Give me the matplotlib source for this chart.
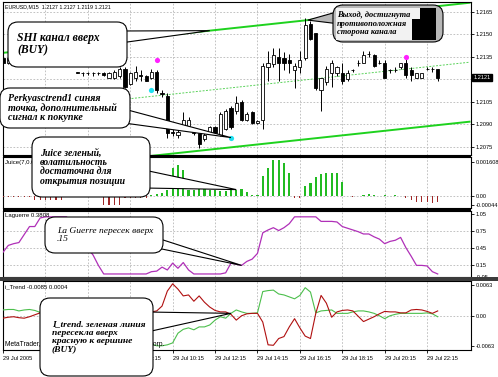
import numpy as np
import matplotlib
matplotlib.use("Agg")
import matplotlib.pyplot as plt
from matplotlib.patches import FancyBboxPatch, Polygon, Rectangle
from matplotlib import transforms

W, H = 498, 377

# EURUSD M15, 29 Jul 2005, bar index 0..82 (02:15 .. 22:45)
opens = [1.2134, 1.2131, 1.2134, 1.2137, 1.2135, 1.2133, 1.2135, 1.2138, 1.2136, 1.2134,
         1.2135, 1.2133, 1.2131, 1.2132, 1.2125, 1.2124, 1.2124, 1.2124, 1.2124, 1.2124,
         1.2121, 1.2121, 1.2122, 1.2127, 1.2117, 1.2121, 1.2123, 1.2122, 1.2121, 1.2125,
         1.2111, 1.2109, 1.2085, 1.2083, 1.2089, 1.2089, 1.2085, 1.2084, 1.2080, 1.2085,
         1.2088, 1.2083, 1.2087, 1.2101, 1.2099, 1.2105, 1.2093, 1.2098, 1.2091, 1.2093,
         1.2128, 1.2130, 1.2135, 1.2134, 1.2133, 1.2126, 1.2128, 1.2134, 1.2157, 1.2151,
         1.2113, 1.2118, 1.2124, 1.2124, 1.2124, 1.2120, 1.2126, 1.2131, 1.2131, 1.2137,
         1.2136, 1.2131, 1.2131, 1.2126, 1.2126, 1.2128, 1.2131, 1.2126, 1.2121, 1.2121,
         1.2127, 1.2127, 1.2127]
highs = [1.2135, 1.2135, 1.2138, 1.2140, 1.2137, 1.2136, 1.2139, 1.2140, 1.2137, 1.2136,
         1.2136, 1.2134, 1.2133, 1.2133, 1.2125, 1.2125, 1.2125, 1.2125, 1.2125, 1.2125,
         1.2125, 1.2126, 1.2128, 1.2128, 1.2125, 1.2129, 1.2126, 1.2123, 1.2127, 1.2126,
         1.2113, 1.2111, 1.2087, 1.2087, 1.2098, 1.2095, 1.2087, 1.2086, 1.2085, 1.2089,
         1.2089, 1.2098, 1.2100, 1.2102, 1.2109, 1.2106, 1.2098, 1.2099, 1.2093, 1.2131,
         1.2139, 1.2141, 1.2141, 1.2138, 1.2137, 1.2131, 1.2139, 1.2161, 1.2159, 1.2151,
         1.2121, 1.2129, 1.2133, 1.2129, 1.2131, 1.2126, 1.2127, 1.2133, 1.2139, 1.2139,
         1.2137, 1.2133, 1.2133, 1.2127, 1.2128, 1.2131, 1.2134, 1.2128, 1.2124, 1.2124,
         1.2128, 1.2128, 1.2127]
lows = [1.2129, 1.2130, 1.2132, 1.2134, 1.2132, 1.2131, 1.2134, 1.2135, 1.2133, 1.2132,
        1.2132, 1.2130, 1.2130, 1.2129, 1.2124, 1.2122, 1.2123, 1.2122, 1.2123, 1.2122,
        1.2121, 1.2120, 1.2121, 1.2114, 1.2116, 1.2119, 1.2119, 1.2119, 1.2120, 1.2111,
        1.2108, 1.2081, 1.2082, 1.2081, 1.2088, 1.2087, 1.2083, 1.2074, 1.2079, 1.2084,
        1.2083, 1.2082, 1.2086, 1.2087, 1.2097, 1.2092, 1.2092, 1.2090, 1.2090, 1.2087,
        1.2119, 1.2128, 1.2119, 1.2126, 1.2124, 1.2114, 1.2124, 1.2133, 1.2146, 1.2113,
        1.2099, 1.2116, 1.2115, 1.2122, 1.2117, 1.2119, 1.2125, 1.2129, 1.2131, 1.2135,
        1.2128, 1.2130, 1.2121, 1.2124, 1.2125, 1.2127, 1.2121, 1.2119, 1.2121, 1.2121,
        1.2126, 1.2125, 1.2119]
closes = [1.2131, 1.2134, 1.2137, 1.2135, 1.2133, 1.2135, 1.2138, 1.2136, 1.2134, 1.2135,
          1.2133, 1.2131, 1.2132, 1.2130, 1.2124, 1.2124, 1.2124, 1.2124, 1.2124, 1.2123,
          1.2124, 1.2125, 1.2127, 1.2115, 1.2124, 1.2125, 1.2122, 1.2119, 1.2125, 1.2113,
          1.2110, 1.2084, 1.2084, 1.2085, 1.2093, 1.2093, 1.2084, 1.2077, 1.2083, 1.2088,
          1.2084, 1.2097, 1.2099, 1.2088, 1.2104, 1.2093, 1.2097, 1.2091, 1.2092, 1.2129,
          1.2131, 1.2136, 1.2131, 1.2131, 1.2131, 1.2129, 1.2133, 1.2156, 1.2147, 1.2114,
          1.2121, 1.2127, 1.2131, 1.2128, 1.2119, 1.2124, 1.2126, 1.2131, 1.2136, 1.2137,
          1.2129, 1.2131, 1.2121, 1.2126, 1.2126, 1.2131, 1.2123, 1.2123, 1.2124, 1.2124,
          1.2127, 1.2127, 1.2121]

# SHI channel edges at its two ends
chan_bars = [0, 88]
chan_upper = [1.21375, 1.21709]
chan_lower = [1.20582, 1.20916]

# Perkyasctrend1 dots
magenta_bars = [29, 76]
magenta_price = [1.2133, 1.2135]
cyan_bars = [28, 43]
cyan_price = [1.2113, 1.2081]

juice = [-0.00005, -0.00005, -0.00005, -0.00005, -0.00005, -0.00005, -0.0002, -0.0002, -0.0002, -0.0002,
         -0.0002, -0.0002, -0.00005, -0.00005, -0.00005, -0.00005, -0.00005, -0.00005, -0.00005, -0.00042,
         -0.00042, -0.00042, -0.00042, -0.0001, -0.0001, -0.0001, -0.0001, -0.0001, 0.00005, 0.0001,
         0.00015, 0.0003, 0.00131, 0.00145, 0.00122, 0.0003, 0.0003, 0.00035, 0.00035, 0.0003,
         0.0003, 0.00025, 0.00025, 0.0003, 0.0003, 0.00035, 0.0002, 0.00005, 0.00005, 0.00094,
         0.0013, 0.0017, 0.00169, 0.00156, 0.00109, -0.00008, -0.00008, 0.00047, 0.0006, 0.0009,
         0.00103, 0.00106, 0.00106, 0.00106, 0.00064, 0.00002, -0.00003, 0.00002, 0.00005, 0.0001,
         0.00005, 0.00002, 0.00005, 0.00002, 0.00005, 0.00002, -0.0001, -0.00019, -0.00027, -0.00027,
         -0.00027, -0.00031, -0.00027]

laguerre = [0.38, 0.50, 0.53, 0.55, 0.69, 0.83, 0.83, 0.98, 1.0, 1.0,
            1.0, 1.0, 1.0, 0.85, 0.70, 0.55, 0.45, 0.33, 0.15, 0.0,
            0.0, 0.0, 0.0, 0.0, 0.0, 0.0, 0.0, 0.0, 0.04, 0.05,
            0.12, 0.07, 0.19, 0.10, 0.20, 0.07, 0.0, 0.0, 0.0, 0.0,
            0.0, 0.0, 0.02, 0.19, 0.17, 0.15, 0.22, 0.26, 0.36, 0.72,
            0.77, 0.81, 0.76, 0.81, 0.88, 1.0, 1.0, 1.0, 1.0, 1.0,
            0.92, 0.92, 0.92, 0.91, 0.83, 0.80, 0.77, 0.74, 0.70, 0.70,
            0.65, 0.61, 0.53, 0.57, 0.59, 0.64, 0.46, 0.31, 0.15, 0.15,
            0.14, 0.04, 0.0]

itrend_green = [0.0012, 0.0013, 0.0013, 0.0010, 0.0012, 0.0013, 0.0011, 0.0007, 0.0005, 0.0003,
                0.0001, -0.0001, -0.0003, -0.0005, -0.0008, -0.0010, -0.0013, -0.0016, -0.0020, -0.0024,
                -0.0028, -0.0032, -0.0036, -0.0040, -0.0044, -0.0048, -0.0052, -0.0055, -0.0058, -0.0062,
                -0.0062, -0.0060, -0.0056, -0.0036, -0.0028, -0.0025, -0.0029, -0.0023, -0.0023, -0.0019,
                -0.0009, -0.0002, -0.0005, 0.0005, 0.0012, 0.0008, 0.0005, 0.0005, 0.0006, 0.0050,
                0.0052, 0.0053, 0.0045, 0.0043, 0.0039, 0.0035, 0.0042, 0.0058, 0.0049, 0.0006,
                0.0010, 0.0011, 0.0012, 0.0005, 0.0005, 0.0005, 0.0008, 0.0010, 0.0010, 0.0008,
                0.0005, 0.0000, -0.0006, 0.0000, 0.0003, 0.0005, 0.0005, 0.0005, 0.0005, 0.0005,
                0.0006, 0.0004, -0.0002]
itrend_red = [-0.0005, -0.0003, -0.0002, -0.0004, -0.0005, -0.0002, 0.0002, 0.0006, 0.0008, 0.0009,
              0.0010, 0.0010, 0.0011, 0.0011, 0.0012, 0.0012, 0.0012, 0.0011, 0.0011, 0.0010,
              0.0010, 0.0009, 0.0009, 0.0009, 0.0008, 0.0008, 0.0008, 0.0008, 0.0008, 0.0010,
              0.0020, 0.0051, 0.0066, 0.0055, 0.0041, 0.0043, 0.0030, 0.0041, 0.0028, 0.0018,
              0.0011, 0.0008, 0.0008, 0.0003, -0.0009, 0.0000, 0.0004, 0.0005, 0.0005, -0.0013,
              -0.0060, -0.0061, -0.0047, -0.0043, -0.0023, -0.0006, -0.0025, -0.0042, -0.0047, 0.0005,
              0.0042, 0.0026, -0.0003, 0.0008, 0.0011, 0.0012, 0.0010, -0.0001, -0.0012, -0.0007,
              -0.0002, 0.0004, 0.0009, 0.0008, 0.0008, 0.0006, 0.0006, 0.0012, 0.0013, 0.0012,
              0.0009, 0.0005, 0.0010]

time_ticks = [0, 8, 16, 24, 32, 40, 48, 56, 64, 72, 80]
time_labels = ['29 Jul 2005', '29 Jul 04:15', '29 Jul 06:15', '29 Jul 08:15', '29 Jul 10:15',
               '29 Jul 12:15', '29 Jul 14:15', '29 Jul 16:15', '29 Jul 18:15', '29 Jul 20:15',
               '29 Jul 22:15']
price_ticks = [1.2165, 1.2150, 1.2135, 1.2120, 1.2105, 1.2090, 1.2075]
price_labels = ['1.2165', '1.2150', '1.2135', '', '1.2105', '1.2090', '1.2075']
juice_ticks = [0.001608, 0.0, -0.00044]
juice_labels = ['0.001608', '0.00', '-0.00044']
lag_ticks = [1.05, 0.75, 0.45, 0.15, -0.05]
lag_labels = ['1.05', '0.75', '0.45', '0.15', '-0.05']
lag_levels = [0.75, 0.45, 0.15]
trend_ticks = [0.0063, 0.0, -0.0063]
trend_labels = ['0.0063', '0.00', '-0.0063']

SANS = ['Liberation Sans', 'DejaVu Sans']
SERIF = ['Liberation Serif', 'DejaVu Serif']
TICK_FS = 4.1
GRID = dict(color='#b8b8b8', lw=0.6, ls=(0, (2, 2)))

fig = plt.figure(figsize=(W / 100, H / 100), dpi=100)


def panel(top, bottom, left=3, right=471):
    return fig.add_axes([left / W, 1 - bottom / H, (right - left) / W, (bottom - top) / H])


ax_p = panel(2, 155)
ax_j = panel(157, 208)
ax_l = panel(211, 277)
ax_t = panel(281, 350)
panels = [ax_p, ax_j, ax_l, ax_t]

for ax in panels:
    ax.set_xlim(0.19, 88.28)
    ax.set_xticks(time_ticks)
    ax.tick_params(axis='x', bottom=False, labelbottom=False)
    ax.tick_params(axis='y', left=False, labelleft=False, right=True, labelright=True,
                   direction='out', length=2, width=0.6, pad=1.2, labelsize=TICK_FS)
    ax.grid(True, axis='x', **GRID)
    for s in ax.spines.values():
        s.set_linewidth(0.8)

# --- price panel
x = np.arange(len(opens))
o, hi, lo, c = map(np.array, (opens, highs, lows, closes))
up = c >= o
ax_p.set_ylim(1.20694, 1.21714)
ax_p.set_yticks(price_ticks)
ax_p.set_yticklabels(price_labels, family=SANS)
for p in price_ticks:
    ax_p.axhline(p, zorder=0, **GRID)
ax_p.vlines(x, lo, hi, color='black', lw=0.7, zorder=3)
ax_p.bar(x, np.maximum(o, c) - np.minimum(o, c), bottom=np.minimum(o, c), width=0.6,
         color=np.where(up, 'white', 'black'), edgecolor='black', lw=0.6, zorder=4)
cb = np.array(chan_bars, float)
ax_p.plot(cb, chan_upper, color='#1ed21e', lw=1.4, zorder=2)
ax_p.plot(cb, chan_lower, color='#1ed21e', lw=1.4, zorder=2)
ax_p.plot(cb, (np.array(chan_upper) + np.array(chan_lower)) / 2, color='#5ad25a', lw=0.7,
          ls=(0, (2, 1.5)), zorder=2)
ax_p.scatter(magenta_bars, magenta_price, s=14, color='#ff20ff', zorder=5, lw=0)
ax_p.scatter(cyan_bars, cyan_price, s=14, color='#20e0f0', zorder=5, lw=0)
ytr = transforms.blended_transform_factory(ax_p.transAxes, ax_p.transData)
ax_p.text(1.005, closes[-1], f'{closes[-1]:.4f}', transform=ytr, color='white', fontsize=TICK_FS,
          family=SANS, va='center', ha='left', clip_on=False, zorder=6,
          bbox=dict(boxstyle='square,pad=0.2', fc='black', ec='black'))
ax_p.annotate('EURUSD,M15  1.2127 1.2127 1.2119 1.2121', xy=(0, 1), xycoords='axes fraction',
              xytext=(2, -2), textcoords='offset pixels', va='top', fontsize=3.8, family=SANS)

# --- Juice
jv = np.array(juice)
ax_j.set_ylim(-0.000563, 0.001828)
ax_j.bar(x, jv, width=np.where(jv > 0, 0.4, 0.22), color=np.where(jv > 0, '#22bb22', '#a02828'),
         zorder=3)
ax_j.axhline(0, zorder=0, **GRID)
ax_j.set_yticks(juice_ticks)
ax_j.set_yticklabels(juice_labels, family=SANS)
ax_j.annotate('Juice(7,0.0004) 0.00 -0.0003', xy=(0, 1), xycoords='axes fraction',
              xytext=(2, -3), textcoords='offset pixels', va='top', fontsize=4.3, family=SANS)

# --- Laguerre
ax_l.set_ylim(-0.053, 1.102)
ax_l.plot(x, laguerre, color='#b030b8', lw=0.9, zorder=3)
for lv in lag_levels:
    ax_l.axhline(lv, zorder=0, **GRID)
ax_l.set_yticks(lag_ticks)
ax_l.set_yticklabels(lag_labels, family=SANS)
ax_l.annotate('Laguerre 0.3808', xy=(0, 1), xycoords='axes fraction',
              xytext=(2, -2), textcoords='offset pixels', va='top', fontsize=4.3, family=SANS)

# --- i_Trend
ax_t.set_ylim(-0.00707, 0.00718)
ax_t.plot(x, itrend_green, color='#4cbf4c', lw=0.8, zorder=3)
ax_t.plot(x, itrend_red, color='#b01010', lw=0.8, zorder=3)
ax_t.axhline(0, zorder=0, **GRID)
ax_t.set_yticks(trend_ticks)
ax_t.set_yticklabels(trend_labels, family=SANS)
ax_t.tick_params(axis='x', bottom=True, labelbottom=True, direction='out', length=2,
                 width=0.6, pad=2, labelsize=TICK_FS)
ax_t.set_xticklabels(time_labels, family=SANS, ha='left')
ax_t.annotate('i_Trend -0.0085 0.0004', xy=(0, 1), xycoords='axes fraction',
              xytext=(2, -3), textcoords='offset pixels', va='top', fontsize=4.3, family=SANS)
ax_t.annotate('MetaTrader, \u00a9 2001-2005 MetaQuotes Software Corp.', xy=(0, 0),
              xycoords='axes fraction', xytext=(2, 2), textcoords='offset pixels',
              va='bottom', fontsize=4.8, family=SANS)

# --- overlay in pixel units for separators and callouts
ov = fig.add_axes([0, 0, 1, 1], zorder=10)
ov.set_xlim(0, W)
ov.set_ylim(H, 0)
ov.axis('off')
ov.patch.set_alpha(0)

ov.add_patch(Rectangle((3, 155), 468, 2, fc='black', ec='none', zorder=1))
ov.add_patch(Rectangle((3, 208), 468, 3, fc='black', ec='none', zorder=1))
ov.add_patch(Rectangle((0, 277), 498, 4, fc='#3c3c3c', ec='none', zorder=1))


def to_ov(ax, xv, yv):
    return ov.transData.inverted().transform(ax.transData.transform((xv, yv)))


def chan_at(bar):
    return np.interp(bar, chan_bars, chan_upper)


def callout(box, base, tip, text, tx, fs, weight='bold', face='white'):
    x0, y0, x1, y1 = box
    ov.add_patch(Polygon([base[0], tip, base[1]], closed=True, fc=face, ec='black',
                         lw=0.8, zorder=20))
    ov.add_patch(FancyBboxPatch((x0, y0), x1 - x0, y1 - y0,
                                boxstyle='round,pad=0,rounding_size=10',
                                fc=face, ec='black', lw=0.8, zorder=21))
    return ov.text(tx, (y0 + y1) / 2, text, fontsize=fs, family=SERIF, style='italic',
                   weight=weight, va='center', ha='left', linespacing=1.05, zorder=23)


callout((8, 22, 127, 67), [(120, 31), (120, 43)], to_ov(ax_p, 39, chan_at(39)),
        'SHI канал вверх\n(BUY)', 17, 8.4)
callout((0, 88, 130, 128), [(124, 109), (124, 123)], to_ov(ax_p, cyan_bars[1], cyan_price[1]),
        'Perkyasctrend1 синяя\nточка, дополнительный\nсигнал к покупке', 8, 7.2)
callout((32, 137, 150, 197), [(144, 170), (144, 188)], to_ov(ax_j, 44, juice[44]),
        'Juice зеленый,\nволатильность\nдостаточна для\nоткрытия позиции', 40, 7.0)
callout((45, 217, 163, 253), [(157, 238), (157, 248)], to_ov(ax_l, 45, laguerre[45]),
        'La Guerre пересек вверх\n.15', 57, 6.8, weight='normal')
callout((40, 298, 153, 376), [(147, 312), (147, 332)], to_ov(ax_t, 43, itrend_green[43]),
        'I_trend. зеленая линия\nпересекла вверх\nкрасную к вершине\n(BUY)', 52, 6.8)
callout((333, 5, 443, 42), [(340, 11), (340, 24)], to_ov(ax_p, 57.5, chan_at(57.5)),
        'Выход, достигнута\nпротивоположная\nсторона канала', 337, 6.0, face='#b8b8b8')
# exit callout: light text field with a dark block on its right side
ov.add_patch(Rectangle((336, 8), 84, 32, fc='#f2f2f2', ec='none', zorder=22))
ov.add_patch(Polygon([(420, 8), (436, 8), (436, 40), (412, 40), (412, 19), (420, 19)],
                     closed=True, fc='black', ec='none', zorder=22))

fig.savefig('out.png', dpi=100)
